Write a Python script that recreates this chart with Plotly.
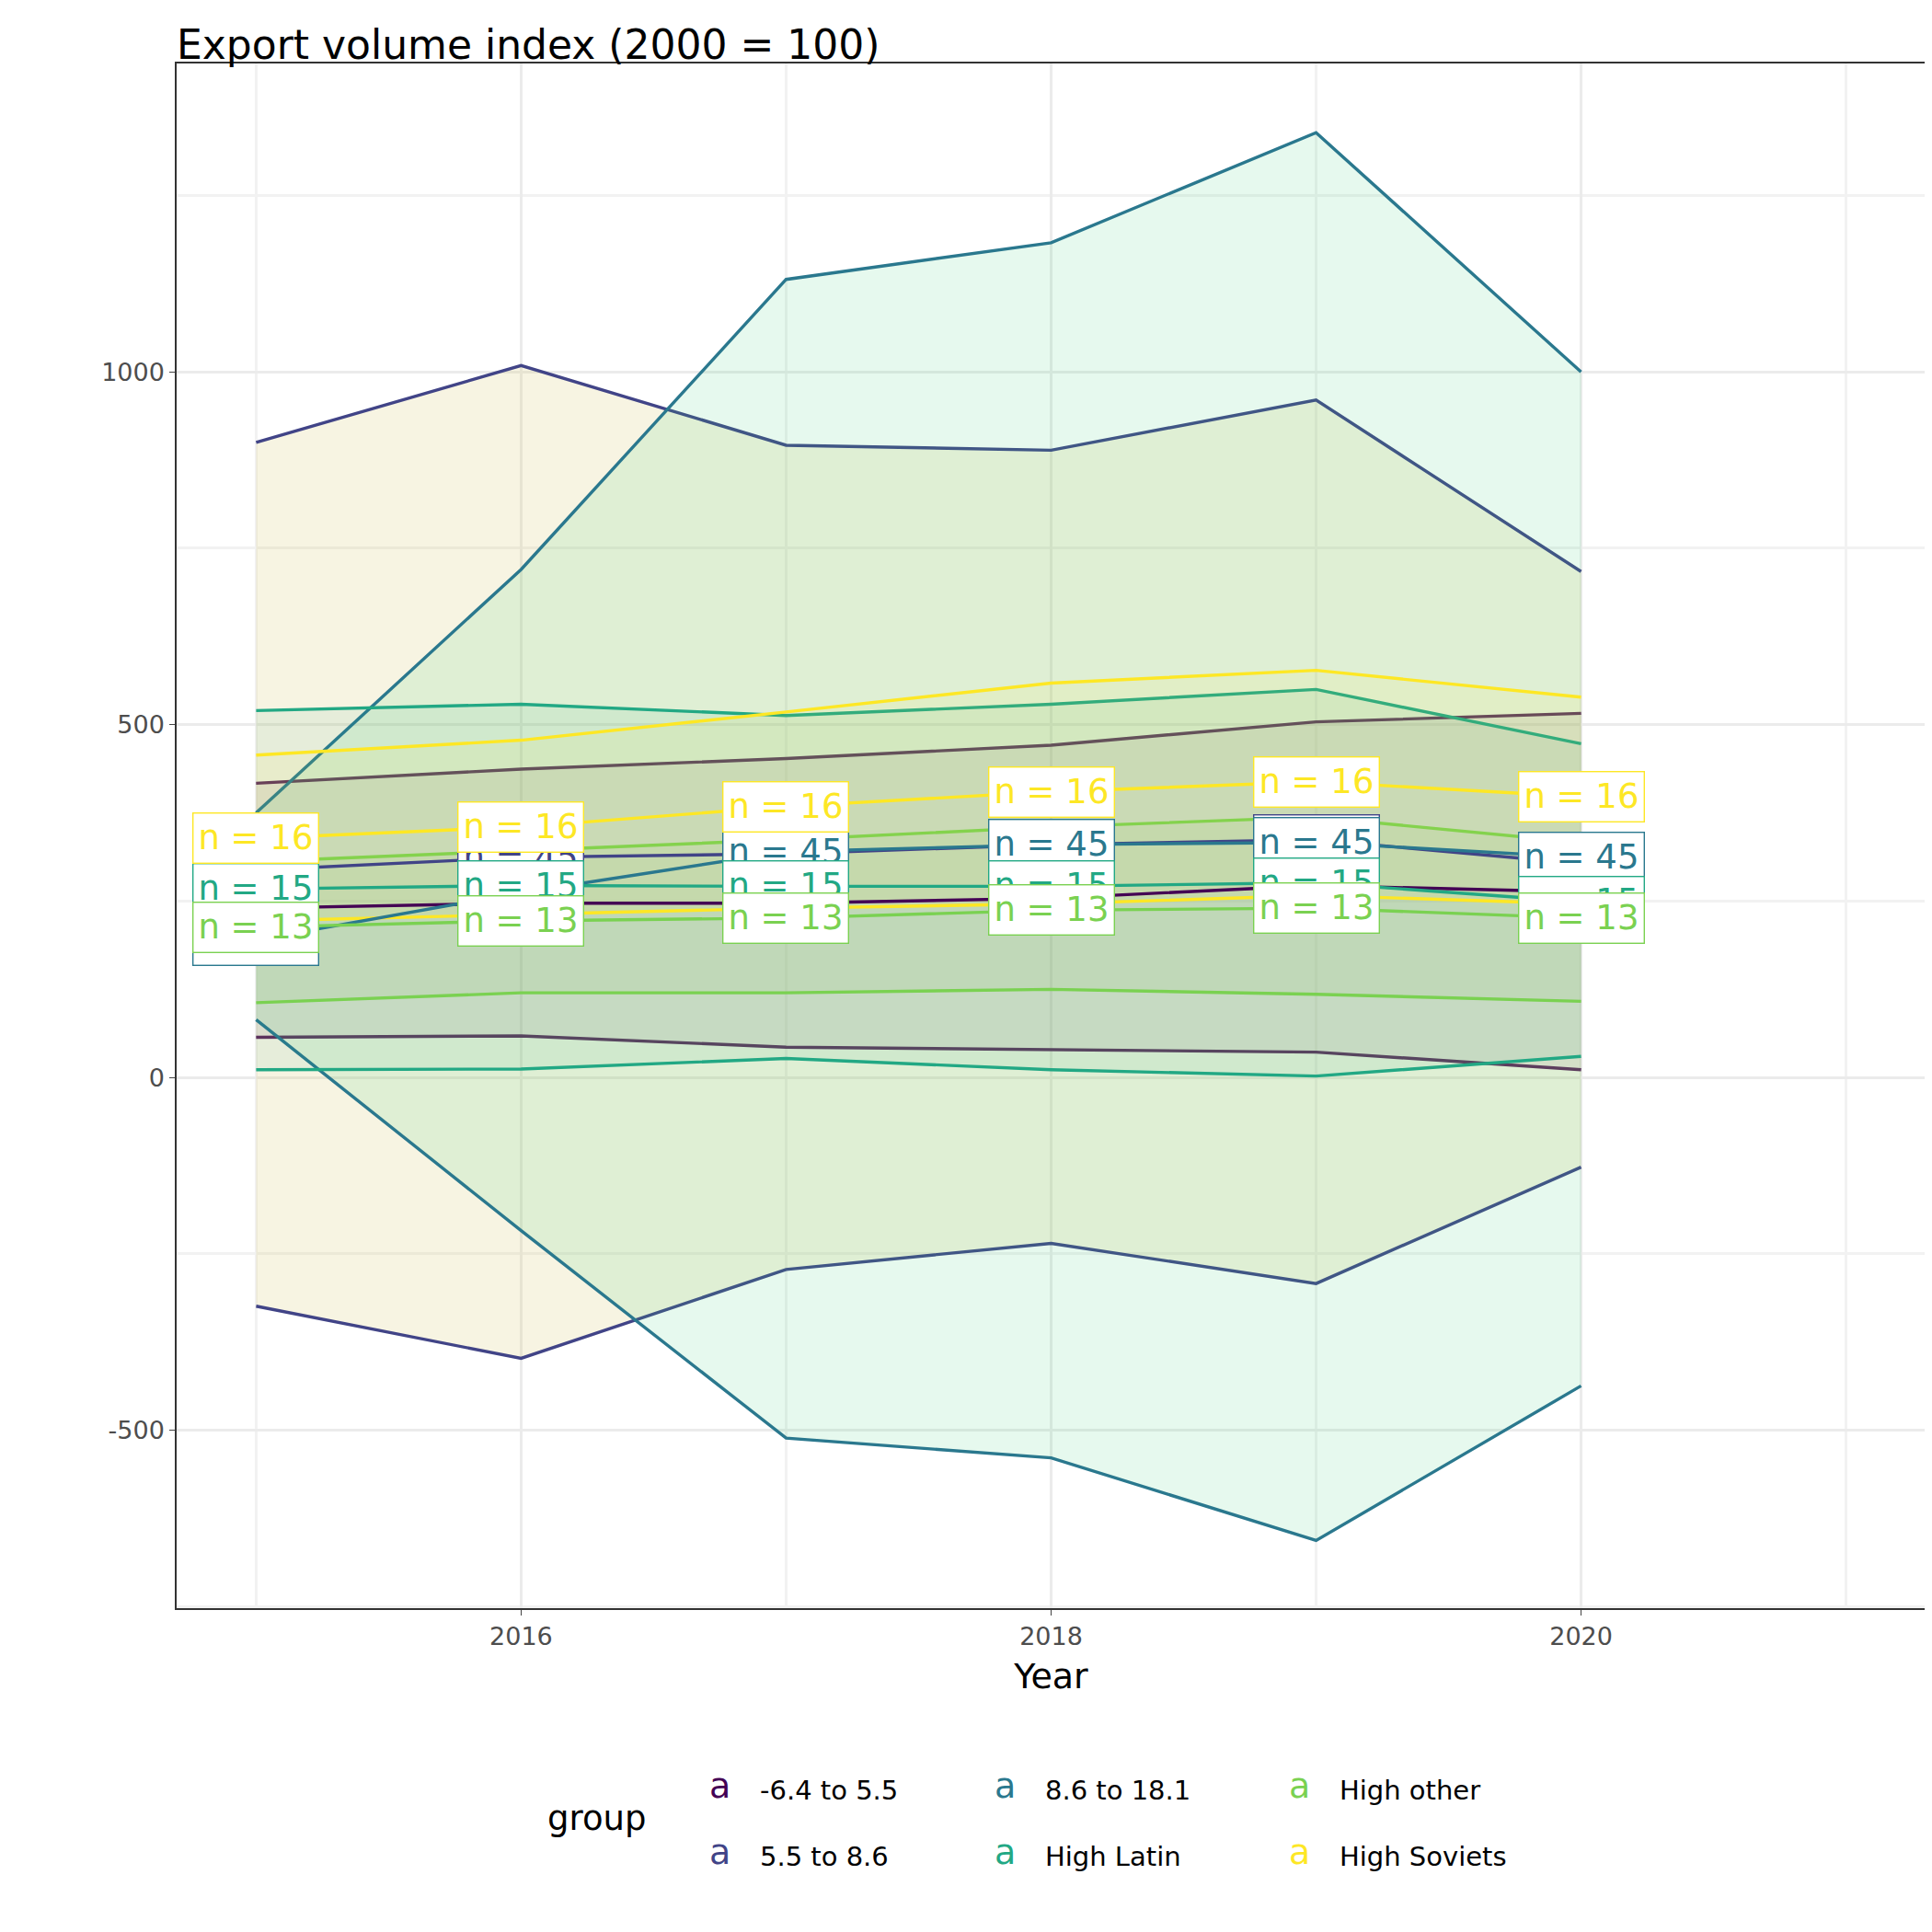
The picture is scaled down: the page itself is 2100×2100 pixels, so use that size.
import plotly.graph_objects as go

years = [2015, 2016, 2017, 2018, 2019, 2020]
groups = ['-6.4 to 5.5', '5.5 to 8.6', '8.6 to 18.1', 'High Latin', 'High other', 'High Soviets']
colors = ['#440154', '#414487', '#2A788E', '#22A884', '#7AD151', '#FDE725']
fills = ['rgba(120,40,90,0.10)', 'rgba(215,200,110,0.20)', 'rgba(60,210,120,0.13)',
         'rgba(34,168,132,0.08)', 'rgba(122,209,81,0.08)', 'rgba(253,231,37,0.08)']
n_labels = ['n = 45', 'n = 45', 'n = 45', 'n = 15', 'n = 13', 'n = 16']

mean_vals = [
    [240, 247, 247, 254, 272, 263],
    [294, 312, 317, 330, 337, 303],
    [195, 262, 320, 330, 333, 312],
    [267, 272, 271, 271, 276, 249],
    [213, 222, 226, 237, 240, 226],
    [339, 355, 384, 405, 419, 398],
]
hi_vals = [
    [417, 437, 452, 471, 504, 516],
    [900, 1009, 896, 889, 960, 717],
    [375, 720, 1131, 1183, 1339, 1000],
    [520, 529, 513, 529, 550, 473],
    [306, 321, 337, 355, 369, 333],
    [457, 478, 518, 559, 577, 539],
]
lo_vals = [
    [57, 59, 43, 39, 36, 11],
    [-324, -398, -272, -235, -292, -127],
    [82, -217, -511, -539, -656, -437],
    [11, 12, 27, 11, 2, 30],
    [106, 120, 120, 125, 118, 108],
    [222, 231, 240, 246, 258, 246],
]
y_ticks = [-500, 0, 500, 1000]
y_ticktext = ['-500', '0', '500', '1000']

fig = go.Figure()
for i, g in enumerate(groups):
    fig.add_trace(go.Scatter(x=years, y=lo_vals[i], mode='lines', line=dict(color=colors[i], width=3.4),
                             showlegend=False, hoverinfo='skip'))
    fig.add_trace(go.Scatter(x=years, y=hi_vals[i], mode='lines', line=dict(color=colors[i], width=3.4),
                             fill='tonexty', fillcolor=fills[i], showlegend=False, hoverinfo='skip'))
for i, g in enumerate(groups):
    fig.add_trace(go.Scatter(x=years, y=mean_vals[i], mode='lines', line=dict(color=colors[i], width=3.4),
                             showlegend=False))
    for x, y in zip(years, mean_vals[i]):
        fig.add_annotation(x=x, y=y, text=n_labels[i], showarrow=False,
                           font=dict(size=37, color=colors[i], family='DejaVu Sans'),
                           bgcolor='white', bordercolor=colors[i], borderwidth=1.4, borderpad=5)

# legend built from annotations (3 columns x 2 rows, column-wise order)
col_x = [(774 - 184) / 1901, (1084 - 184) / 1901, (1404 - 184) / 1901]
row_y = [-0.129, -0.172]
for i, g in enumerate(groups):
    cx = col_x[i // 2]
    ry = row_y[i % 2]
    fig.add_annotation(x=cx, y=ry, xref='paper', yref='paper', text='a', showarrow=False,
                       xanchor='center', font=dict(size=38, color=colors[i]))
    fig.add_annotation(x=cx + 0.022, y=ry, xref='paper', yref='paper', text=g, showarrow=False,
                       xanchor='left', font=dict(size=29, color='black'))
fig.add_annotation(x=(640 - 184) / 1901, y=-0.150, xref='paper', yref='paper', text='group',
                   showarrow=False, xanchor='center', font=dict(size=37, color='black'))

fig.update_layout(
    width=2100, height=2100,
    paper_bgcolor='white', plot_bgcolor='white',
    showlegend=False,
    margin=dict(l=184, r=15, t=61, b=360),
    font=dict(family='DejaVu Sans', color='black'),
    title=dict(text='Export volume index (2000 = 100)', x=0, xref='paper', y=0.988, yanchor='top',
               font=dict(size=44)),
    xaxis=dict(range=[2014.7, 2021.3], tickvals=[2016, 2018, 2020], title=dict(text='Year', font=dict(size=38)),
               showgrid=True, gridcolor='#ebebeb', gridwidth=2.5, minor=dict(dtick=1, showgrid=True, gridcolor='#f2f2f2'),
               showline=True, mirror=True, linecolor='#333333', linewidth=1.5, ticks='outside', ticklen=6,
               tickfont=dict(size=27, color='#4d4d4d'), zeroline=False),
    yaxis=dict(range=[-752, 1437], tickvals=y_ticks, ticktext=y_ticktext, showgrid=True, gridcolor='#ebebeb',
               gridwidth=2.5, minor=dict(dtick=250, showgrid=True, gridcolor='#f2f2f2'),
               showline=True, mirror=True, linecolor='#333333', linewidth=1.5, ticks='outside', ticklen=6,
               tickfont=dict(size=27, color='#4d4d4d'), zeroline=False),
)
fig.write_html('out.html')
